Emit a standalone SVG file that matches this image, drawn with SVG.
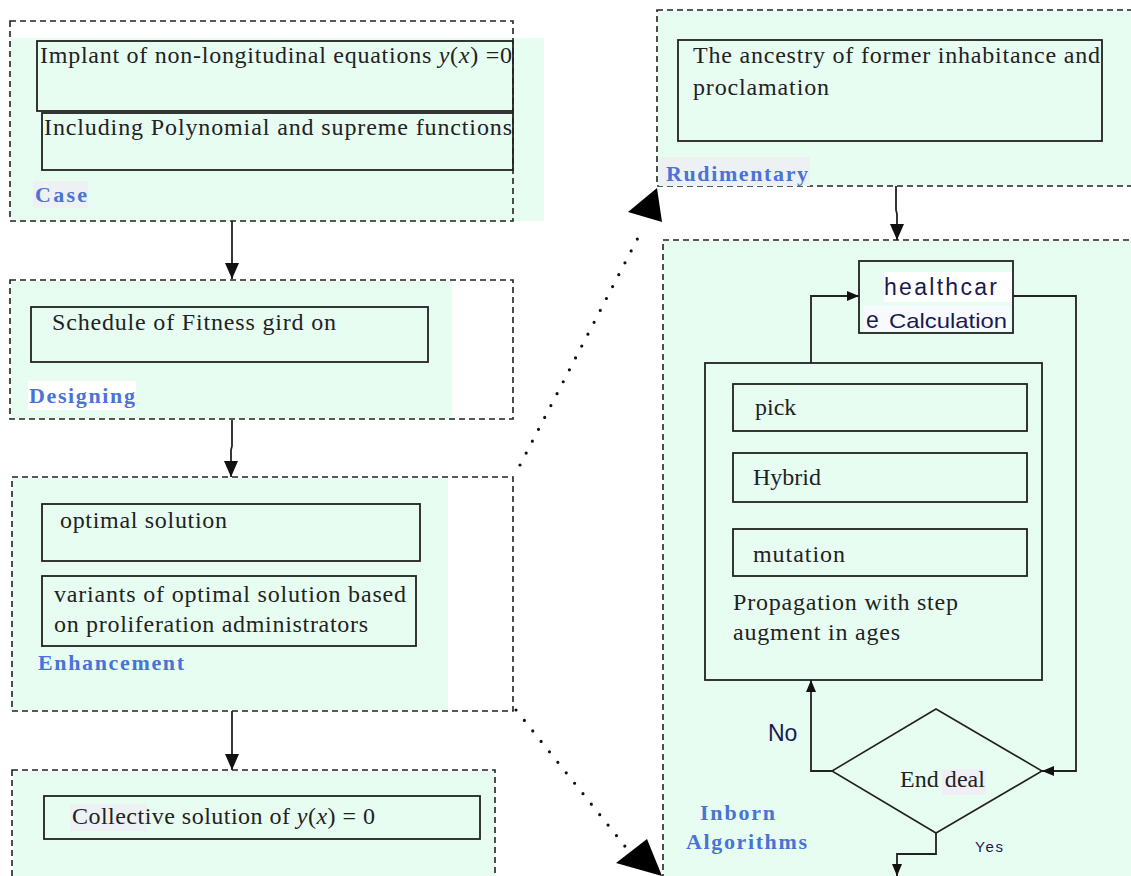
<svg xmlns="http://www.w3.org/2000/svg" width="1131" height="876" viewBox="0 0 1131 876">
<style>
.bg{fill:#e8fdf2}
.dash{fill:none;stroke:#222;stroke-width:1.6;stroke-dasharray:6 4}
.box{fill:none;stroke:#222;stroke-width:1.8}
.t{font-family:"Liberation Serif","Times New Roman",serif;font-size:24px;fill:#222}
.lbl{font-family:"Liberation Serif","Times New Roman",serif;font-size:22px;font-weight:bold;fill:#4a73d6}
.s{font-family:"Liberation Sans",Arial,sans-serif;fill:#1a1a50}
.ln{fill:none;stroke:#222;stroke-width:1.8}
.dot{fill:none;stroke:#111;stroke-width:3.2;stroke-linecap:round;stroke-dasharray:0 13.4}
.big{fill:#000}
</style>
<defs>
<marker id="ah" viewBox="0 0 12 10" refX="12" refY="5" markerWidth="12" markerHeight="10" markerUnits="userSpaceOnUse" orient="auto">
<path d="M0,0 L12,5 L0,10 z" fill="#111"/>
</marker>
<marker id="ahs" viewBox="0 0 16 14" refX="16" refY="7" markerWidth="16" markerHeight="14" markerUnits="userSpaceOnUse" orient="auto">
<path d="M0,0 L16,7 L0,14 z" fill="#111"/>
</marker>
</defs>
<rect width="1131" height="876" fill="#fff"/>

<g id="case">
<rect class="bg" x="11" y="38" width="533" height="183"/>
<rect class="dash" x="10" y="21" width="503" height="200"/>
<rect class="box" x="37" y="41" width="476" height="70"/>
<text class="t" x="40" y="63" textLength="472" lengthAdjust="spacing">Implant of non-longitudinal equations <tspan font-style="italic">y</tspan>(<tspan font-style="italic">x</tspan>) =0</text>
<rect class="box" x="42" y="113" width="471" height="57"/>
<text class="t" x="44" y="135" textLength="468" lengthAdjust="spacing">Including Polynomial and supreme functions</text>
<rect x="33" y="181" width="55" height="27" fill="#eef1f4"/>
<text class="lbl" x="35" y="202" textLength="52">Case</text>
</g>

<g id="designing">
<rect class="bg" x="11" y="281" width="441" height="138"/>
<rect class="dash" x="10" y="280" width="503" height="139"/>
<rect class="box" x="31" y="307" width="397" height="55"/>
<text class="t" x="52" y="330" textLength="284" lengthAdjust="spacing">Schedule of Fitness gird on</text>
<rect x="28" y="381" width="108" height="29" fill="#fff"/>
<text class="lbl" x="29" y="403" textLength="106">Designing</text>
</g>

<g id="enhancement">
<rect class="bg" x="12" y="478" width="436" height="232"/>
<rect class="dash" x="12" y="477" width="501" height="234"/>
<rect class="box" x="42" y="504" width="378" height="57"/>
<text class="t" x="60" y="528" textLength="167" lengthAdjust="spacing">optimal solution</text>
<rect class="box" x="42" y="576" width="374" height="70"/>
<text class="t" x="54" y="602" textLength="352" lengthAdjust="spacing">variants of optimal solution based</text>
<text class="t" x="54" y="632" textLength="314" lengthAdjust="spacing">on proliferation administrators</text>
<text class="lbl" x="38" y="670" textLength="146">Enhancement</text>
</g>

<g id="collective">
<rect class="bg" x="13" y="771" width="482" height="105"/>
<rect class="dash" x="12" y="770" width="483" height="120"/>
<rect class="box" x="44" y="796" width="436" height="43"/>
<rect x="70" y="804" width="77" height="27" fill="#eef1f4"/>
<text class="t" x="72" y="824" textLength="303" lengthAdjust="spacing">Collective solution of <tspan font-style="italic">y</tspan>(<tspan font-style="italic">x</tspan>) = 0</text>
</g>

<g id="rudimentary">
<rect class="bg" x="658" y="10" width="473" height="176"/>
<rect class="dash" x="657" y="10" width="490" height="176"/>
<rect class="box" x="678" y="40" width="424" height="101"/>
<text class="t" x="693" y="63" textLength="407" lengthAdjust="spacing">The ancestry of former inhabitance and</text>
<text class="t" x="693" y="95" textLength="136" lengthAdjust="spacing">proclamation</text>
<rect x="659" y="157" width="151" height="29" fill="#eef1f4"/>
<text class="lbl" x="666" y="181" textLength="142">Rudimentary</text>
</g>

<g id="inborn">
<rect class="bg" x="664" y="241" width="467" height="635"/>
<rect class="dash" x="663" y="240" width="490" height="660"/>
<text class="lbl" x="700" y="820" font-size="23" textLength="75">Inborn</text>
<text class="lbl" x="686" y="849" font-size="23" textLength="121">Algorithms</text>
</g>

<g id="healthcare">
<rect class="bg" x="859" y="261" width="154" height="72"/>
<rect x="884" y="272" width="129" height="30" fill="#fff"/>
<rect x="864" y="306" width="146" height="25" fill="#f7fbff"/>
<rect class="box" x="859" y="261" width="154" height="72"/>
<text class="s" x="884" y="295" font-size="23" textLength="113" lengthAdjust="spacing">healthcar</text>
<text class="s" x="866" y="328" font-size="23">e</text>
<text class="s" x="889" y="328" font-size="21" textLength="118" lengthAdjust="spacingAndGlyphs">Calculation</text>
</g>

<g id="propagation">
<rect class="box" x="705" y="363" width="337" height="317"/>
<text class="t" x="733" y="610" textLength="225" lengthAdjust="spacing">Propagation with step</text>
<text class="t" x="733" y="640" textLength="167" lengthAdjust="spacing">augment in ages</text>
</g>
<g id="pick">
<rect class="box" x="733" y="384" width="294" height="47"/>
<text class="t" x="755" y="415">pick</text>
</g>
<g id="hybrid">
<rect class="box" x="733" y="453" width="294" height="49"/>
<text class="t" x="753" y="485">Hybrid</text>
</g>
<g id="mutation">
<rect class="box" x="733" y="529" width="294" height="47"/>
<text class="t" x="753" y="562" textLength="92" lengthAdjust="spacing">mutation</text>
</g>

<g id="enddeal">
<polygon points="936,709 1042,771 936,833 832,771" fill="none" stroke="#222" stroke-width="1.6"/>
<rect x="942" y="769" width="44" height="26" fill="#f1eff6"/>
<text class="t" x="900" y="787" font-size="22" textLength="85" lengthAdjust="spacing">End deal</text>
</g>

<g id="connectors">
<line class="ln" x1="232" y1="221" x2="232" y2="279" marker-end="url(#ahs)"/>
<polyline class="ln" points="232,420 232,446 231,450 231,477" marker-end="url(#ahs)"/>
<line class="ln" x1="232" y1="711" x2="232" y2="770" marker-end="url(#ahs)"/>
<polyline class="ln" points="896,186 896,210 897,214 897,240" marker-end="url(#ahs)"/>
<polyline class="ln" points="811,363 811,296 859,296" marker-end="url(#ah)"/>
<polyline class="ln" points="1013,296 1076,296 1076,771 1042,771" marker-end="url(#ah)"/>
<polyline class="ln" points="832,771 811,771 811,680" marker-end="url(#ah)"/>
<polyline class="ln" points="936,833 936,854 897,854 897,876" marker-end="url(#ah)"/>
<text class="s" x="768" y="741" font-size="23" fill="#111">No</text>
<text class="s" x="975" y="852" font-size="15" textLength="28">Yes</text>
<line class="dot" x1="520" y1="465" x2="642" y2="230"/>
<polygon class="big" points="628,212 657,188 662,222"/>
<line class="dot" x1="516" y1="710" x2="628" y2="850"/>
<polygon class="big" points="616,863 647,839 662,876"/>
</g>
</svg>
